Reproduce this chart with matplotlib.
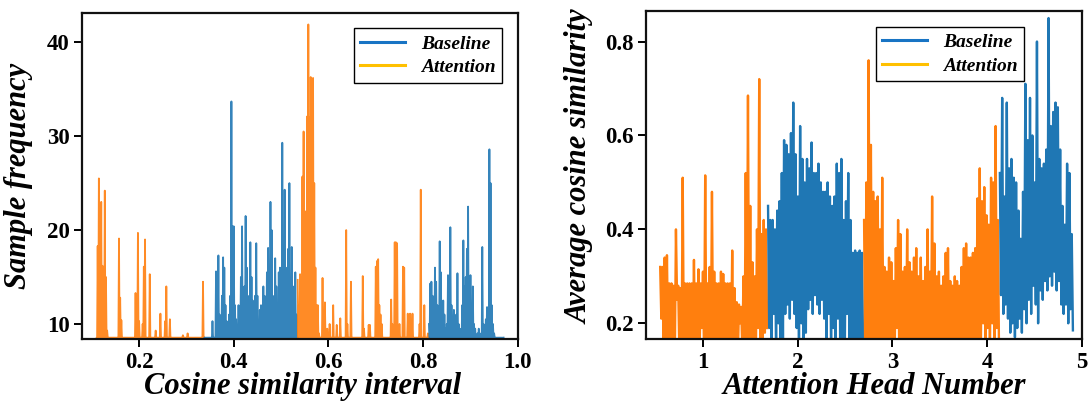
import numpy as np
import matplotlib
matplotlib.use('Agg')
import matplotlib.pyplot as plt
from matplotlib.lines import Line2D

plt.rcParams['font.family'] = ['Liberation Serif', 'DejaVu Serif']
plt.rcParams['font.weight'] = 'bold'

# ---------- left panel: histogram of cosine similarity (bin height per 0.0025) ----------
FLOOR = 8.55
BIN = 0.0025

att_a_start = 0.11
att_a = [8.5, 18.3, 25.5, 12, 23, 16.2, 11, 24.2, 15, 9.3,
         8.5, 8.5, 8.5, 8.5, 8.5, 8.5, 8.5, 8.5, 8.5,
         19.1, 12.8, 10.4,
         8.5, 8.5, 8.5, 8.5, 8.5, 8.5, 8.5, 8.5, 8.5, 8.5, 8.5,
         13.3, 10.5, 19.7, 10.3, 8.5, 8.5, 10, 16.1, 19.0, 8.5, 8.5, 8.5,
         15.3, 8.5, 8.5, 8.5, 8.5, 9.3, 8.5, 8.5, 8.5, 11.1, 8.5, 8.5, 8.5,
         10.3, 14.0, 8.5, 8.5, 10.5,
         8.5, 8.5, 8.5, 8.5, 8.5, 8.5, 8.5, 8.5, 8.5, 8.5,
         8.8, 8.5, 8.5, 8.5, 9.0,
         8.5, 8.5, 8.5, 8.5, 8.5, 8.5, 8.5, 8.5, 8.5, 8.5, 8.5, 8.5,
         14.5]

base_a_start = 0.3375
base_a = [8.5, 8.5, 8.5, 8.5, 8.5, 8.5, 8.5, 10.3, 8.5, 8.5,
          15.6, 12, 17.3, 11, 9.5, 13, 17.1, 16, 12, 10.3,
          9.5, 11, 13, 33.7, 20.4, 20.4, 12, 10.5, 9.5, 12,
          10, 15, 20.4, 11, 14, 21.5, 16, 12, 13, 18.7,
          15, 12.5, 11, 13, 18.6, 13, 10, 11.5, 12, 11,
          14, 13, 12, 15.5, 18.1, 14, 23.0, 20, 13, 12,
          17, 14, 12, 15.5, 16, 13, 29.3, 14, 24.3, 16,
          13, 18, 25.0, 14, 18.2, 14, 12, 15.5, 11]

att_b_start = 0.535
att_b = [14.7, 12, 15.3, 15, 25.7, 30.5, 20, 22, 32.1, 41.9,
         32, 36.3, 28, 36.2, 25, 16, 12, 12, 9, 8.5,
         8.5, 14.9, 9, 12.3, 8.5, 9.5, 8.5, 10, 8.5, 8.5,
         12.0, 8.5, 8.5, 9.9, 8.5, 8.5, 10.6, 8.5, 8.5, 8.5,
         8.5, 20.0, 10, 8.5, 8.5, 14.5, 8.5, 8.5, 8.5, 8.5,
         8.5, 8.5, 8.5, 8.5, 8.5, 15.1, 9.5, 8.5, 8.5, 8.5,
         9.9, 9.9, 8.5, 8.5, 8.5, 8.5, 16.1, 16.7, 16.9, 12,
         11, 10, 8.5, 8.5, 8.5, 8.5, 8.5, 8.5, 8.5, 12.6,
         10, 8.5, 18.7, 18.7, 18.6, 8.5, 10, 8.5, 8.5, 16.1,
         16, 8.5, 8.5, 11.1, 8.5, 11.1, 8.5, 11.1, 8.5, 8.5,
         8.5, 8.5, 8.5, 10, 24.3, 8.5, 8.5, 12, 8.5, 8.5,
         9.0]

base_b_start = 0.8125
base_b = [10, 14.3, 14.5, 13, 11, 16.0, 14.5, 12, 11, 18.8,
          15.5, 10.5, 12.5, 11, 9.5, 10, 15.2, 12, 20.3, 12,
          10.3, 11.5, 9.5, 11, 15.4, 10, 9.5, 9, 12, 18.9,
          14, 15, 18, 22.5, 15, 15.2, 12, 14, 10, 9.5,
          8.5, 9, 9.5, 8.5, 9, 18.2, 10, 8.5, 10.5, 11.8,
          11, 28.6, 25.0, 12, 10, 9, 8.5, 8.5, 8.5, 8.5,
          8.5, 8.5, 8.5]

# ---------- right panel: per-head average cosine similarity (peak / trough pairs) ----------
att_a_heads = (0.545, 1.675)
att_a_hi = [0.32, 0.32, 0.34, 0.345, 0.285, 0.285, 0.28, 0.40, 0.28, 0.275,
            0.51, 0.285, 0.285, 0.285, 0.285, 0.335, 0.285, 0.315, 0.285, 0.31,
            0.515, 0.285, 0.32, 0.48, 0.31, 0.285, 0.285, 0.31, 0.305, 0.285,
            0.285, 0.285, 0.355, 0.275, 0.245, 0.24, 0.235, 0.30, 0.52, 0.685,
            0.45, 0.33, 0.30, 0.40, 0.72, 0.39, 0.42, 0.40]
att_a_lo = [0.21, 0.14, 0.13, 0.15, 0.13, 0.14, 0.13, 0.25, 0.14, 0.13,
            0.15, 0.13, 0.14, 0.13, 0.15, 0.14, 0.13, 0.14, 0.19, 0.13,
            0.14, 0.15, 0.13, 0.14, 0.13, 0.15, 0.14, 0.13, 0.14, 0.13,
            0.15, 0.14, 0.13, 0.14, 0.13, 0.20, 0.14, 0.13, 0.15, 0.14,
            0.13, 0.14, 0.13, 0.19, 0.14, 0.13, 0.18, 0.19]

base_a_heads = (1.685, 2.69)
base_a_hi = [0.45, 0.42, 0.42, 0.40, 0.44, 0.46, 0.52, 0.59, 0.58, 0.56,
             0.605, 0.67, 0.56, 0.47, 0.62, 0.55, 0.50, 0.55, 0.53, 0.585,
             0.52, 0.52, 0.54, 0.50, 0.48, 0.48, 0.50, 0.47, 0.45, 0.47,
             0.54, 0.52, 0.55, 0.42, 0.46, 0.52, 0.42, 0.35, 0.355, 0.35,
             0.355, 0.35]
base_a_lo = [0.19, 0.15, 0.22, 0.14, 0.20, 0.15, 0.16, 0.22, 0.24, 0.21,
             0.25, 0.22, 0.19, 0.15, 0.20, 0.14, 0.18, 0.23, 0.25, 0.22,
             0.26, 0.24, 0.22, 0.25, 0.21, 0.16, 0.22, 0.14, 0.19, 0.15,
             0.21, 0.14, 0.17, 0.15, 0.22, 0.14, 0.16, 0.14, 0.15, 0.14,
             0.15, 0.14]

att_b_heads = (2.70, 4.126)
att_b_hi = [0.42, 0.50, 0.76, 0.58, 0.48, 0.46, 0.47, 0.40, 0.51, 0.32,
            0.31, 0.34, 0.33, 0.29, 0.36, 0.42, 0.39, 0.31, 0.32, 0.40,
            0.33, 0.31, 0.34, 0.36, 0.30, 0.34, 0.29, 0.32, 0.40, 0.31,
            0.47, 0.37, 0.30, 0.31, 0.28, 0.30, 0.35, 0.36, 0.29, 0.28,
            0.30, 0.29, 0.28, 0.32, 0.36, 0.37, 0.34, 0.34, 0.35, 0.36,
            0.466, 0.53, 0.46, 0.49, 0.43, 0.41, 0.51, 0.50, 0.62, 0.42]
att_b_lo = [0.14, 0.13, 0.15, 0.14, 0.13, 0.14, 0.15, 0.13, 0.14, 0.13,
            0.15, 0.14, 0.13, 0.14, 0.19, 0.13, 0.14, 0.15, 0.13, 0.14,
            0.13, 0.15, 0.14, 0.13, 0.14, 0.13, 0.15, 0.14, 0.13, 0.14,
            0.13, 0.15, 0.14, 0.13, 0.14, 0.13, 0.15, 0.14, 0.13, 0.14,
            0.13, 0.15, 0.14, 0.13, 0.14, 0.13, 0.15, 0.14, 0.13, 0.14,
            0.13, 0.15, 0.20, 0.14, 0.19, 0.13, 0.20, 0.15, 0.19, 0.14]

base_b_heads = (4.135, 4.907)
base_b_hi = [0.52, 0.68, 0.47, 0.67, 0.53, 0.55, 0.51, 0.50, 0.44, 0.38,
             0.48, 0.71, 0.59, 0.68, 0.60, 0.50, 0.80, 0.55, 0.53, 0.54,
             0.57, 0.85, 0.62, 0.65, 0.67, 0.66, 0.57, 0.45, 0.41, 0.54,
             0.52, 0.39]
base_b_lo = [0.26, 0.22, 0.24, 0.21, 0.18, 0.20, 0.17, 0.19, 0.21, 0.18,
             0.23, 0.20, 0.25, 0.22, 0.28, 0.24, 0.20, 0.27, 0.25, 0.29,
             0.27, 0.30, 0.28, 0.31, 0.27, 0.29, 0.24, 0.22, 0.24, 0.20,
             0.23, 0.185]

BLUE = '#1f77b4'
ORANGE = '#ff7f0e'


def spikes(x0, vals):
    # each bin drawn as a spike rising from the floor of the histogram
    y = np.full(2 * len(vals) + 1, FLOOR)
    y[0:-1:2] = vals
    x = x0 + BIN * np.arange(len(y)) / 2
    return x, y


def pairs(span, hi, lo):
    y = np.empty(2 * len(hi))
    y[0::2] = hi
    y[1::2] = lo
    x = np.linspace(span[0], span[1], len(y))
    return x, y


def style(ax):
    for s in ax.spines.values():
        s.set_linewidth(1.6)
        s.set_color('#111111')
    ax.tick_params(direction='out', length=6, width=1.4, labelsize=16.5, pad=3)
    handles = [Line2D([], [], color='#1874c4', lw=2.2), Line2D([], [], color='#ffc000', lw=2.2)]
    return handles


fig = plt.figure(figsize=(10.89, 4.01), dpi=100)
W, H = 1089, 401
ax1 = fig.add_axes([82.3 / W, 1 - 339 / H, (517.8 - 82.3) / W, (339 - 12.7) / H])
ax2 = fig.add_axes([646 / W, 1 - 339 / H, (1081.7 - 646) / W, (339 - 11) / H])

for x0, vals, c in [(att_a_start, att_a, ORANGE), (base_a_start, base_a, BLUE),
                    (att_b_start, att_b, ORANGE), (base_b_start, base_b, BLUE)]:
    x, y = spikes(x0, vals)
    ax1.plot(x, y, color=c, lw=1.3, alpha=0.9)

ax1.set_xlim(0.08, 1.0)
ax1.set_ylim(8.4, 43.15)
ax1.set_xticks([0.2, 0.4, 0.6, 0.8, 1.0])
ax1.set_xticklabels(['0.2', '0.4', '0.6', '0.8', '1.0'])
ax1.set_yticks([10, 20, 30, 40])
h = style(ax1)
ax1.set_xlabel('Cosine similarity interval', fontsize=22, fontstyle='italic', fontweight='bold')
ax1.set_ylabel('Sample frequency', fontsize=22, fontstyle='italic', fontweight='bold')
ax1.xaxis.set_label_coords(0.506, -0.1)
ax1.yaxis.set_label_coords(-0.113, 0.5)
leg = ax1.legend(h, ['Baseline', 'Attention'], loc='upper right', bbox_to_anchor=(0.964, 0.952),
                 borderaxespad=0, fancybox=False, edgecolor='black', framealpha=1,
                 prop={'style': 'italic', 'weight': 'bold', 'size': 14},
                 handlelength=2.3, handletextpad=0.8, labelspacing=0.3, borderpad=0.35)
leg.get_frame().set_linewidth(1.0)

for span, hi, lo, c in [(att_a_heads, att_a_hi, att_a_lo, ORANGE), (base_a_heads, base_a_hi, base_a_lo, BLUE),
                        (att_b_heads, att_b_hi, att_b_lo, ORANGE), (base_b_heads, base_b_hi, base_b_lo, BLUE)]:
    x, y = pairs(span, hi, lo)
    ax2.plot(x, y, color=c, lw=1.7, alpha=1.0)

ax2.set_xlim(0.395, 5.0)
ax2.set_ylim(0.1666, 0.865)
ax2.set_xticks([1, 2, 3, 4, 5])
ax2.set_yticks([0.2, 0.4, 0.6, 0.8])
ax2.set_yticklabels(['0.2', '0.4', '0.6', '0.8'])
h = style(ax2)
ax2.set_xlabel('Attention Head Number', fontsize=22, fontstyle='italic', fontweight='bold')
ax2.set_ylabel('Average cosine similarity', fontsize=22, fontstyle='italic', fontweight='bold')
ax2.xaxis.set_label_coords(0.523, -0.1)
ax2.yaxis.set_label_coords(-0.117, 0.524)
leg = ax2.legend(h, ['Baseline', 'Attention'], loc='upper right', bbox_to_anchor=(0.868, 0.952),
                 borderaxespad=0, fancybox=False, edgecolor='black', framealpha=1,
                 prop={'style': 'italic', 'weight': 'bold', 'size': 14},
                 handlelength=2.3, handletextpad=0.8, labelspacing=0.3, borderpad=0.35)
leg.get_frame().set_linewidth(1.0)

fig.savefig('out.png', dpi=100)
